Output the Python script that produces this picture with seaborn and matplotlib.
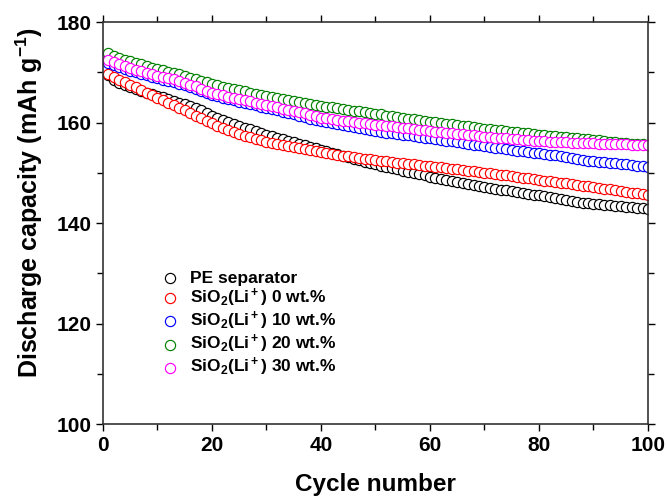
import numpy as np
import pandas as pd
import matplotlib
matplotlib.use("Agg")
import matplotlib.pyplot as plt
import seaborn as sns
from matplotlib.ticker import MultipleLocator

# Discharge capacity (mAh/g) per cycle
cycles = list(range(1, 101))

pe_separator = [
    169.4, 168.5, 167.9, 167.4, 167.0, 166.6, 166.2, 165.9, 165.6, 165.3,
    165.0, 164.7, 164.3, 163.9, 163.6, 163.2, 162.9, 162.4, 161.9, 161.4,
    161.0, 160.6, 160.2, 159.8, 159.4, 159.0, 158.7, 158.3, 158.0, 157.6,
    157.3, 157.0, 156.7, 156.4, 156.1, 155.8, 155.5, 155.2, 154.9, 154.5,
    154.3, 154.0, 153.7, 153.4, 153.1, 152.8, 152.5, 152.2, 151.9, 151.7,
    151.4, 151.2, 150.9, 150.7, 150.4, 150.2, 149.9, 149.7, 149.5, 149.2,
    149.0, 148.8, 148.6, 148.4, 148.2, 148.0, 147.8, 147.6, 147.4, 147.2,
    147.0, 146.8, 146.6, 146.5, 146.3, 146.1, 145.9, 145.8, 145.6, 145.5,
    145.3, 145.1, 145.0, 144.8, 144.6, 144.4, 144.2, 144.0, 143.9, 143.8,
    143.7, 143.6, 143.5, 143.4, 143.3, 143.2, 143.1, 143.0, 142.9, 142.8,
]

sio2_0 = [
    169.6, 169.0, 168.5, 168.0, 167.5, 167.0, 166.5, 165.9, 165.4, 164.9,
    164.4, 163.9, 163.4, 162.9, 162.4, 161.9, 161.4, 160.9, 160.4, 159.9,
    159.4, 159.0, 158.6, 158.2, 157.8, 157.4, 157.1, 156.8, 156.5, 156.2,
    156.0, 155.8, 155.6, 155.4, 155.2, 155.0, 154.8, 154.6, 154.4, 154.2,
    154.0, 153.8, 153.6, 153.4, 153.3, 153.1, 153.0, 152.8, 152.7, 152.5,
    152.4, 152.3, 152.1, 152.0, 151.9, 151.8, 151.7, 151.5, 151.4, 151.3,
    151.2, 151.1, 150.9, 150.8, 150.7, 150.5, 150.4, 150.3, 150.1, 150.0,
    149.9, 149.7, 149.6, 149.5, 149.3, 149.2, 149.0, 148.9, 148.7, 148.6,
    148.4, 148.3, 148.2, 148.0, 147.9, 147.7, 147.6, 147.4, 147.3, 147.1,
    147.0, 146.8, 146.7, 146.5, 146.4, 146.2, 146.0, 145.9, 145.7, 145.5,
]

sio2_10 = [
    171.9, 171.5, 171.1, 170.7, 170.3, 170.0, 169.7, 169.4, 169.1, 168.8,
    168.5, 168.3, 168.0, 167.7, 167.4, 167.0, 166.7, 166.3, 165.9, 165.5,
    165.2, 164.9, 164.7, 164.4, 164.1, 163.9, 163.6, 163.4, 163.1, 162.9,
    162.6, 162.4, 162.1, 161.9, 161.6, 161.3, 161.1, 160.8, 160.6, 160.3,
    160.1, 159.9, 159.7, 159.5, 159.3, 159.1, 158.9, 158.7, 158.5, 158.3,
    158.2, 158.0, 157.9, 157.7, 157.6, 157.5, 157.3, 157.2, 157.0, 156.9,
    156.7, 156.6, 156.4, 156.3, 156.1, 156.0, 155.8, 155.6, 155.5, 155.3,
    155.2, 155.0, 154.9, 154.7, 154.6, 154.4, 154.3, 154.2, 154.0, 153.9,
    153.7, 153.6, 153.5, 153.3, 153.2, 153.0, 152.7, 152.5, 152.4, 152.3,
    152.2, 152.1, 152.0, 151.9, 151.8, 151.7, 151.5, 151.4, 151.3, 151.2,
]

sio2_20 = [
    173.8, 173.3, 172.9, 172.5, 172.2, 171.9, 171.6, 171.3, 170.9, 170.7,
    170.4, 170.1, 169.9, 169.6, 169.2, 168.9, 168.7, 168.3, 168.0, 167.6,
    167.4, 167.1, 166.9, 166.6, 166.4, 166.2, 165.9, 165.7, 165.5, 165.3,
    165.1, 164.9, 164.7, 164.4, 164.2, 164.0, 163.8, 163.7, 163.5, 163.3,
    163.1, 163.0, 162.8, 162.6, 162.5, 162.3, 162.2, 162.0, 161.9, 161.7,
    161.6, 161.4, 161.3, 161.1, 161.0, 160.8, 160.7, 160.5, 160.4, 160.2,
    160.1, 159.9, 159.8, 159.7, 159.5, 159.4, 159.3, 159.1, 159.0, 158.8,
    158.7, 158.6, 158.5, 158.4, 158.2, 158.1, 158.0, 157.9, 157.7, 157.6,
    157.5, 157.4, 157.3, 157.2, 157.1, 157.0, 156.9, 156.8, 156.7, 156.6,
    156.5, 156.4, 156.2, 156.1, 156.0, 155.9, 155.8, 155.8, 155.7, 155.6,
]

sio2_30 = [
    172.4, 172.0, 171.6, 171.2, 170.8, 170.5, 170.2, 169.9, 169.6, 169.3,
    169.0, 168.8, 168.6, 168.2, 167.9, 167.5, 167.2, 166.7, 166.3, 165.9,
    165.6, 165.4, 165.1, 164.9, 164.6, 164.4, 164.2, 163.9, 163.7, 163.5,
    163.2, 163.0, 162.7, 162.5, 162.3, 162.0, 161.8, 161.5, 161.3, 161.0,
    160.9, 160.7, 160.6, 160.4, 160.3, 160.2, 160.0, 159.9, 159.8, 159.6,
    159.5, 159.4, 159.3, 159.1, 159.0, 158.9, 158.7, 158.6, 158.5, 158.3,
    158.2, 158.1, 158.0, 157.9, 157.8, 157.7, 157.6, 157.5, 157.4, 157.2,
    157.1, 157.0, 156.9, 156.9, 156.8, 156.7, 156.6, 156.5, 156.4, 156.3,
    156.3, 156.2, 156.2, 156.1, 156.1, 156.0, 156.0, 155.9, 155.9, 155.9,
    155.8, 155.8, 155.8, 155.7, 155.7, 155.7, 155.6, 155.6, 155.6, 155.6,
]

labels = [
    "PE separator",
    r"SiO$_2$(Li$^+$) 0 wt.%",
    r"SiO$_2$(Li$^+$) 10 wt.%",
    r"SiO$_2$(Li$^+$) 20 wt.%",
    r"SiO$_2$(Li$^+$) 30 wt.%",
]
series = [pe_separator, sio2_0, sio2_10, sio2_20, sio2_30]
colors = ["black", "red", "blue", "green", "magenta"]

# Style
sns.set_style("ticks")
plt.rcParams["font.family"] = ["Liberation Sans", "DejaVu Sans"]
plt.rcParams["font.weight"] = "bold"
plt.rcParams["text.color"] = "black"
plt.rcParams["axes.labelcolor"] = "black"
plt.rcParams["mathtext.fontset"] = "custom"
plt.rcParams["mathtext.rm"] = "Liberation Sans:bold"
plt.rcParams["mathtext.bf"] = "Liberation Sans:bold"
plt.rcParams["mathtext.it"] = "Liberation Sans:bold"
plt.rcParams["mathtext.default"] = "bf"

fig = plt.figure(figsize=(6.67, 4.96), dpi=100)
ax = fig.add_axes([0.1544, 0.145, 0.8171, 0.8106])

for lab, vals, col in zip(labels, series, colors):
    df = pd.DataFrame({"cycle": cycles, "cap": vals})
    sns.scatterplot(data=df, x="cycle", y="cap", ax=ax, marker="o", s=54,
                    color="white", edgecolor=col, linewidth=0.85, label=lab)

ax.set_xlim(0, 100)
ax.set_ylim(100, 180)
ax.xaxis.set_major_locator(MultipleLocator(20))
ax.xaxis.set_minor_locator(MultipleLocator(10))
ax.yaxis.set_major_locator(MultipleLocator(20))
ax.yaxis.set_minor_locator(MultipleLocator(10))
ax.tick_params(which="both", direction="out", top=True, right=True,
               labeltop=False, labelright=False, width=1.0, colors="black",
               labelsize=15)
ax.tick_params(which="major", length=5)
ax.tick_params(which="minor", length=4)
for sp in ax.spines.values():
    sp.set_linewidth(1.2)
    sp.set_color("#333333")

ax.set_xlabel("Cycle number", fontsize=17.5, fontweight="bold", labelpad=13)
ax.set_ylabel(r"Discharge capacity (mAh g$^{-1}$)", fontsize=18,
              fontweight="bold")
ax.yaxis.set_label_coords(-0.106, 0.55)

leg = ax.legend(loc="upper left", bbox_to_anchor=(0.107, 0.382), frameon=False,
                fontsize=12.5, handlelength=1.0, handletextpad=0.65,
                labelspacing=0.05, borderpad=0, borderaxespad=0)
for h in leg.legend_handles:
    h.set_sizes([54])

fig.savefig("out.png", dpi=100)
